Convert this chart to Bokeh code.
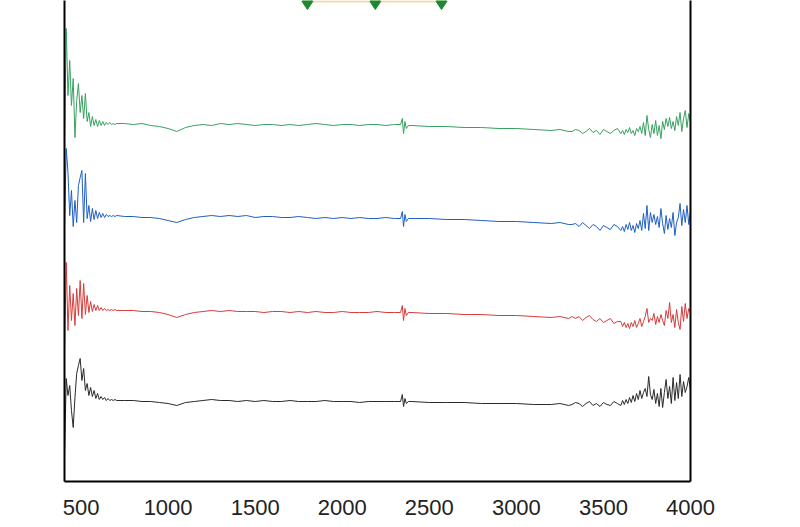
from bokeh.plotting import figure
from bokeh.models import Range1d, FixedTicker, LinearAxis
from bokeh.embed import file_html
from bokeh.resources import INLINE

# ---- data (wavenumber, cm-1) ----
wn_low = [405, 415, 425, 435, 445, 455, 465, 475, 485, 495, 505, 515, 525, 535, 545,
          555, 565, 575, 585, 595, 605, 615, 625, 635, 645, 655, 665, 675, 685, 695, 705]
wn_mid = [750, 800, 850, 900, 950, 1000, 1050, 1100, 1150, 1200, 1250, 1300, 1350, 1400, 1450, 1500,
          1550, 1600, 1650, 1700, 1750, 1800, 1850, 1900, 1950, 2000, 2050, 2100, 2150, 2200, 2250, 2300]
wn_spike = [2335, 2345, 2352, 2360, 2368, 2380, 2400]
wn_high = [2500, 2600, 2700, 2800, 2900, 3000, 3100, 3200, 3250, 3300]
wn_noisy = [3320, 3340, 3360, 3380, 3400, 3420, 3440, 3460, 3480, 3500, 3520, 3540, 3560, 3580,
            3600, 3610, 3620, 3630, 3640, 3650, 3660, 3670, 3680, 3690,
            3700, 3710, 3720, 3730, 3740, 3750, 3760, 3770, 3780, 3790,
            3800, 3810, 3820, 3830, 3840, 3850, 3860, 3870, 3880, 3890,
            3900, 3910, 3920, 3930, 3940, 3950, 3960, 3970, 3980, 3990, 4000]

# signal values (inverted axis, offset-stacked traces)
green_low = [140, 28, 95, 60, 105, 78, 137, 100, 83, 112, 95, 118, 93, 121, 112, 126, 116, 125, 119, 126,
             120, 125, 121, 125, 122, 124, 122, 124, 123, 124, 123]
green_mid = [123, 124, 123, 125, 126, 128, 131, 127, 125, 124, 125, 123, 124, 123, 124, 125,
             124, 124, 125, 124, 125, 124, 123, 124, 125, 124, 124, 125, 124, 124, 125, 124]
green_spike = [124, 118, 133, 121, 128, 125, 125]
green_high = [126, 126, 127, 127, 128, 128, 129, 130, 129, 131]
green_noisy = [131, 129, 130, 133, 131, 128, 132, 130, 134, 129, 131, 133, 130, 128,
               133, 130, 134, 129, 132, 127, 133, 130, 135, 128,
               131, 126, 133, 122, 135, 115, 129, 137, 124, 133,
               120, 135, 125, 138, 121, 129, 118, 126, 117, 128,
               121, 130, 116, 125, 112, 131, 118, 110, 127, 113, 122]

blue_low = [225, 148, 172, 215, 190, 226, 200, 222, 185, 177, 170, 222, 173, 218, 205, 221, 208, 219, 210, 218,
            212, 217, 213, 217, 214, 216, 215, 216, 215, 216, 215]
blue_mid = [216, 216, 217, 217, 218, 220, 222, 219, 217, 216, 215, 216, 215, 216, 215, 217,
            216, 216, 217, 217, 216, 217, 218, 217, 218, 217, 218, 217, 218, 218, 217, 218]
blue_spike = [218, 211, 226, 214, 221, 218, 218]
blue_high = [218, 219, 219, 220, 221, 221, 222, 223, 222, 224]
blue_noisy = [224, 223, 226, 222, 225, 228, 224, 226, 230, 225, 227, 229, 224, 226,
              230, 226, 231, 224, 229, 222, 230, 225, 232, 223,
              228, 220, 230, 213, 228, 205, 230, 212, 222, 214,
              224, 216, 227, 208, 223, 233, 215, 229, 218, 227,
              212, 235, 222, 217, 203, 225, 209, 222, 205, 224, 210]

red_low = [350, 262, 330, 285, 320, 293, 325, 288, 315, 280, 318, 283, 314, 295, 312, 301, 311, 304, 310, 305,
           310, 307, 310, 308, 310, 309, 310, 309, 310, 309, 310]
red_mid = [310, 310, 311, 311, 312, 314, 317, 314, 312, 311, 310, 311, 310, 311, 311, 311,
           312, 311, 311, 312, 311, 312, 311, 312, 312, 311, 312, 312, 312, 311, 312, 312]
red_spike = [312, 305, 320, 308, 315, 312, 312]
red_high = [313, 313, 314, 314, 315, 315, 316, 317, 316, 318]
red_noisy = [316, 318, 316, 320, 317, 315, 319, 321, 318, 322, 320, 318, 323, 321,
             321, 326, 322, 327, 323, 328, 322, 326, 320, 327,
             323, 318, 326, 321, 316, 308, 322, 318, 320, 313,
             324, 316, 322, 314, 320, 325, 310, 318, 302, 322,
             314, 327, 309, 322, 329, 306, 321, 303, 318, 308, 313]

black_low = [455, 378, 395, 385, 410, 427, 397, 373, 365, 358, 380, 368, 390, 383, 395, 387, 396, 390, 398, 393,
             399, 396, 399, 397, 400, 398, 400, 399, 400, 399, 400]
black_mid = [400, 400, 401, 401, 402, 403, 405, 402, 401, 400, 399, 400, 400, 401, 400, 401,
             400, 401, 401, 400, 401, 401, 401, 400, 401, 401, 401, 402, 401, 401, 401, 401]
black_spike = [401, 394, 406, 398, 403, 401, 401]
black_high = [402, 402, 402, 403, 403, 403, 404, 404, 403, 405]
black_noisy = [404, 402, 403, 406, 403, 401, 405, 403, 406, 402, 404, 405, 401, 403,
               405, 400, 404, 399, 403, 397, 402, 395, 401, 393,
               399, 390, 398, 392, 388, 396, 376, 394, 399, 389,
               403, 393, 406, 388, 407, 392, 379, 398, 386, 403,
               377, 400, 382, 398, 374, 396, 381, 392, 386, 377, 390]

marker_x = [1800, 2190, 2570]
marker_y = [1, 1, 1]

x_ticks = [500, 1000, 1500, 2000, 2500, 3000, 3500, 4000]

wn = wn_low + wn_mid + wn_spike + wn_high + wn_noisy
series = [
    (green_low + green_mid + green_spike + green_high + green_noisy, "#38a060"),
    (blue_low + blue_mid + blue_spike + blue_high + blue_noisy, "#1f5fc4"),
    (red_low + red_mid + red_spike + red_high + red_noisy, "#d63c3c"),
    (black_low + black_mid + black_spike + black_high + black_noisy, "#2a2a2a"),
]

p = figure(width=800, height=527, output_backend="svg", toolbar_location=None,
           x_range=Range1d(405, 4000), y_range=Range1d(481, 0),
           min_border_left=64, min_border_right=110, min_border_top=0, min_border_bottom=46)
p.outline_line_color = None
p.grid.visible = False
p.background_fill_color = "white"
p.border_fill_color = "white"

for ys, col in series:
    p.line(wn, ys, line_color=col, line_width=1)

p.line(marker_x, marker_y, line_color="#f6d8a6", line_width=2)
p.scatter(marker_x, marker_y, marker="diamond", size=16, fill_color="#1b8a2e", line_color="#1b8a2e")

xa = p.xaxis[0]
xa.ticker = FixedTicker(ticks=x_ticks)
xa.axis_line_width = 2
xa.axis_line_color = "black"
xa.major_tick_out = 0
xa.major_tick_in = 0
xa.minor_tick_out = 0
xa.minor_tick_in = 0
xa.major_label_standoff = 18
xa.major_label_text_font = "Liberation Sans"
xa.major_label_text_font_size = "22px"
xa.major_label_text_color = "#222222"

ya = p.yaxis[0]
ya.ticker = FixedTicker(ticks=[])
ya.axis_line_width = 2
ya.axis_line_color = "black"
ya.major_tick_out = 0
ya.major_tick_in = 0
ya.minor_tick_out = 0
ya.minor_tick_in = 0

ra = LinearAxis(ticker=FixedTicker(ticks=[]), axis_line_width=2, axis_line_color="black",
                major_tick_out=0, major_tick_in=0, minor_tick_out=0, minor_tick_in=0)
p.add_layout(ra, "right")

open("out.html", "w").write(file_html(p, INLINE))
